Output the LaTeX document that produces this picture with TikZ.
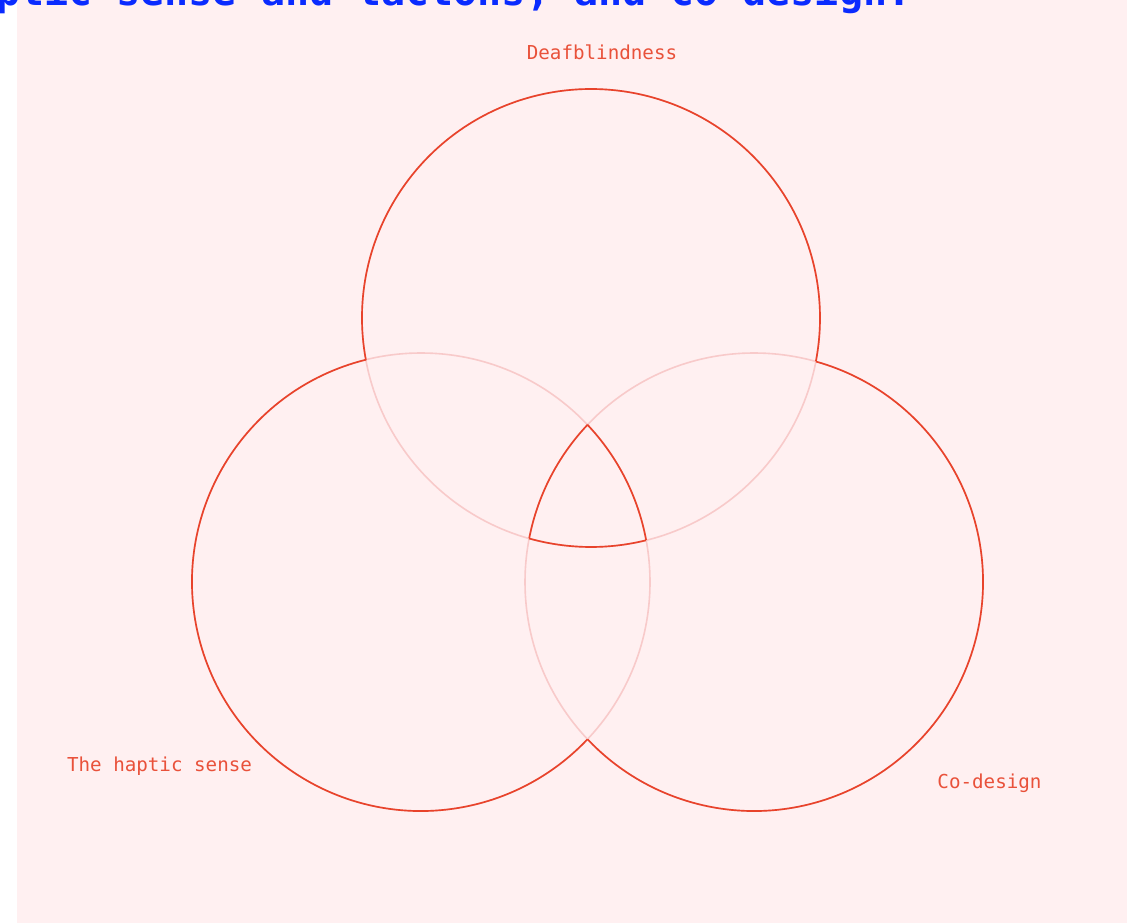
\documentclass[tikz,border=0pt]{standalone}
\usepackage{fontspec}
\newfontfamily\vennmono{DejaVu Sans Mono}
\usepackage{xcolor}
\usetikzlibrary{positioning}
\definecolor{vennbg}{HTML}{FFF0F1}
\definecolor{vennred}{HTML}{E8432B}
\definecolor{vennpink}{HTML}{F8CACA}
\definecolor{labelred}{HTML}{E9513A}
\definecolor{titleblue}{HTML}{0A2BFF}

\begin{document}
\begin{tikzpicture}[x=0.75pt, y=-0.75pt,
  outerarc/.style={draw=vennred, line width=1.25pt},
  innerarc/.style={draw=vennpink, line width=1.2pt},
  setlabel/.style={text=labelred, inner sep=0pt, anchor=base,
    font=\vennmono\fontsize{14.4}{17}\selectfont}]
  \useasboundingbox (0,0) rectangle (1127,923);
  \clip (0,0) rectangle (1127,923);
  \fill[vennbg] (17,0) rectangle (1127,923);

  % title, cut at the top edge
  \node[anchor=base west, inner sep=0pt, text=titleblue,
    font=\vennmono\bfseries\fontsize{30}{34}\selectfont] (title) at (-4,6)
    {ptic sense and tactons, and co-design.};

  % circle centres
  \coordinate (cT) at (591,318);
  \coordinate (cL) at (421,582);
  \coordinate (cR) at (754,582);

  % full circles, pale
  \draw[innerarc] (cT) circle (229);
  \draw[innerarc] (cL) circle (229);
  \draw[innerarc] (cR) circle (229);

  % outline of the union
  \draw[outerarc] ([shift={(169.4:229)}]cT) arc (169.4:370.9:229);
  \draw[outerarc] ([shift={(256.1:229)}]cL) arc (256.1:43.4:229);
  \draw[outerarc] ([shift={(-74.3:229)}]cR) arc (-74.3:136.6:229);

  % outline of the common part
  \draw[outerarc] ([shift={(-43.4:229)}]cL) arc (-43.4:-10.6:229);
  \draw[outerarc] ([shift={(223.4:229)}]cR) arc (223.4:191.0:229);
  \draw[outerarc] ([shift={(105.7:229)}]cT) arc (105.7:76.1:229);

  % set names
  \node[setlabel] (deaf) at (602,60) {Deafblindness};
  \node[setlabel] (haptic) at (159.5,771) {The haptic sense};
  \node[setlabel] (codesign) at (989.5,788) {Co-design};
\end{tikzpicture}
\end{document}
